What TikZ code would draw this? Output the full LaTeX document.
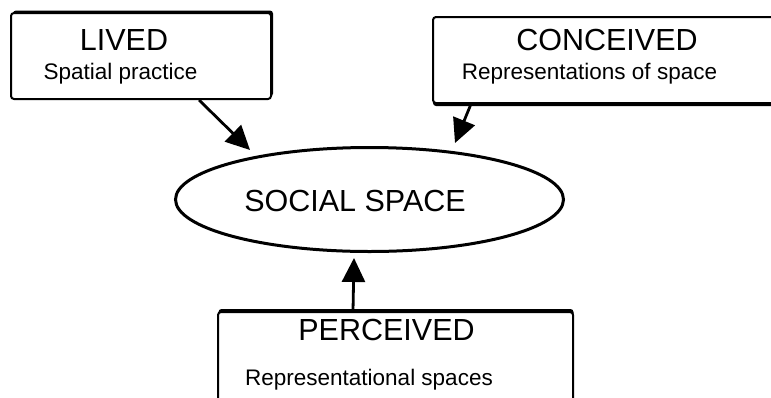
\documentclass[tikz,border=0pt]{standalone}
\usepackage{fontspec}
\setmainfont{Liberation Sans}
\usetikzlibrary{arrows.meta,shapes.geometric,shadows}
\begin{document}
\begin{tikzpicture}[x=1pt,y=-1pt,
  box/.style={draw,fill=white,rectangle,rounded corners=3pt,line width=2pt,inner sep=0pt},
  big/.style={font=\fontsize{30.5}{33}\selectfont,anchor=base,inner sep=0pt},
  small/.style={font=\fontsize{22.5}{25}\selectfont,anchor=base,inner sep=0pt},
  arr/.style={line width=2.8pt,-{Triangle[length=24pt,width=23pt]}}]
\useasboundingbox (0,0) rectangle (771,397);
\clip (0,0) rectangle (771,397);
\node[box,minimum width=260pt,minimum height=86pt,
  general shadow={fill=black,shadow xshift=2pt,shadow yshift=2.5pt}] (lived) at (141,56) {};
\node[box,minimum width=360pt,minimum height=86pt,
  general shadow={fill=black,shadow xshift=0pt,shadow yshift=-3pt}] (conceived) at (613,60) {};
\node[box,minimum width=355pt,minimum height=120pt,
  general shadow={fill=black,shadow xshift=0.5pt,shadow yshift=3pt}] (perceived) at (395.5,372) {};
\node[draw,ellipse,line width=3pt,minimum width=388pt,minimum height=104pt,inner sep=0pt] (social) at (369.5,199.5) {};
\node[big] (livedt) at (124,50) {LIVED};
\node[small] (liveds) at (120.5,79) {Spatial practice};
\node[big] (conct) at (607,50) {CONCEIVED};
\node[small] (concs) at (589.5,79) {Representations of space};
\node[big] (socialt) at (355,211.5) {SOCIAL SPACE};
\node[big] (perct) at (386.5,340) {PERCEIVED};
\node[small] (percs) at (369,385) {Representational spaces};
\coordinate (t1) at (250,150);
\coordinate (t2) at (455,143);
\coordinate (t3) at (354,258);
\draw[arr] ([xshift=189pt]lived.south west) -- (t1);
\draw[arr] ([xshift=39pt]conceived.south west) -- (t2);
\draw[arr] ([xshift=136pt]perceived.north west) -- (t3);
\end{tikzpicture}
\end{document}
